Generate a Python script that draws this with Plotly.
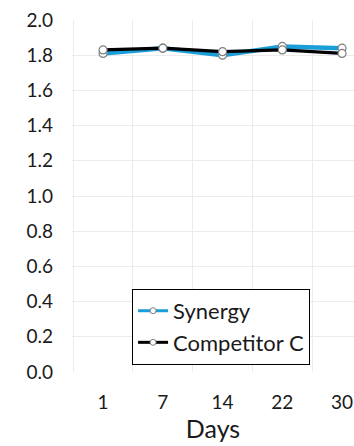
import plotly.graph_objects as go

# Days of measurement (category axis)
days = ["1", "7", "14", "22", "30"]

# Measured values per product
synergy = [1.81, 1.84, 1.80, 1.85, 1.84]
competitor_c = [1.83, 1.84, 1.82, 1.83, 1.81]

y_ticks = [0.0, 0.2, 0.4, 0.6, 0.8, 1.0, 1.2, 1.4, 1.6, 1.8, 2.0]

FONT = "Lato, 'Open Sans', sans-serif"
TEXT = "#1a1a1a"
BLUE = "#1a9ed8"
GRID = "#ebebeb"

series = [
    ("Synergy", synergy, BLUE, 4.5),
    ("Competitor C", competitor_c, "#000000", 3.2),
]

fig = go.Figure()

for i, (name, values, color, width) in enumerate(series):
    fig.add_trace(go.Scatter(
        x=days, y=values, name=name, mode="lines+markers",
        legendgroup=name, showlegend=False,
        line=dict(color=color, width=width),
        marker=dict(symbol="circle", size=8, color="white",
                    line=dict(color="#7f7f7f", width=1.2)),
    ))
    # legend entry with the smaller key marker
    fig.add_trace(go.Scatter(
        x=[None], y=[None], name=name, mode="lines+markers",
        legendgroup=name, showlegend=True,
        line=dict(color=color, width=3),
        marker=dict(symbol="circle", size=6, color="white",
                    line=dict(color="#7f7f7f", width=1)),
    ))

fig.update_layout(
    width=354, height=446,
    margin=dict(l=72, r=0, t=20, b=74),
    paper_bgcolor="white", plot_bgcolor="white",
    font=dict(family=FONT, color=TEXT, size=19),
    showlegend=True,
    legend=dict(
        x=0.213, y=0.236, xanchor="left", yanchor="top",
        bgcolor="white", bordercolor="#000000", borderwidth=1,
        font=dict(size=22, family=FONT, color=TEXT),
        traceorder="grouped", tracegroupgap=0, itemwidth=30,
    ),
    xaxis=dict(
        type="category", range=[-0.52, 4.2],
        showgrid=True, gridcolor=GRID, gridwidth=1,
        tickson="boundaries", ticks="", showline=False, zeroline=False,
        ticklabelstandoff=17,
        tickfont=dict(size=19),
        title=dict(text="Days", font=dict(size=25), standoff=2),
    ),
    yaxis=dict(
        range=[0, 2.0], tickvals=y_ticks,
        ticktext=[f"{v:.1f}" for v in y_ticks],
        showgrid=True, gridcolor=GRID, gridwidth=1,
        zeroline=False, showline=False, ticks="",
        ticklabelstandoff=18,
        tickfont=dict(size=19),
    ),
)

fig.write_html("out.html")
